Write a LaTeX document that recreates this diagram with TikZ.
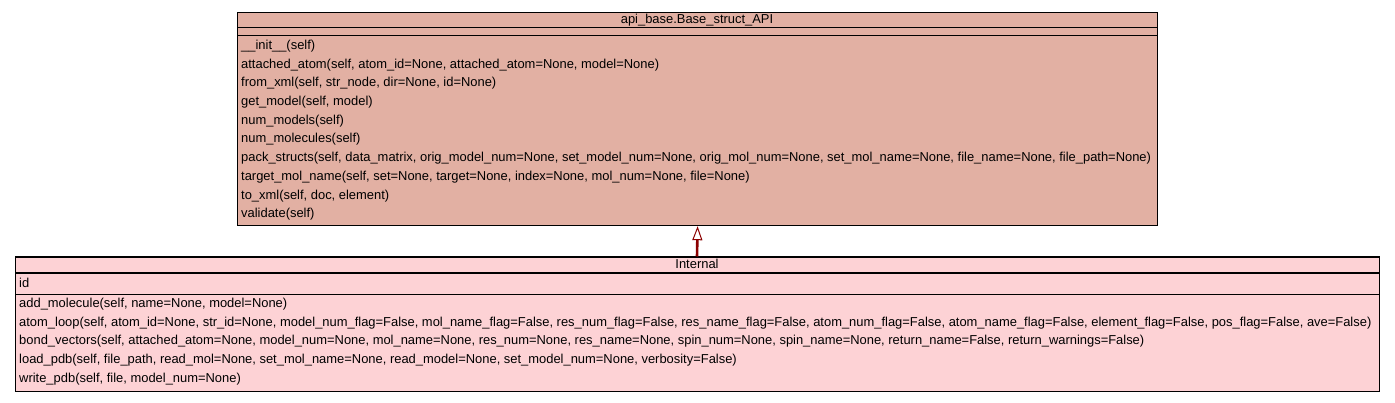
\documentclass[tikz,border=0pt]{standalone}
\usepackage{fontspec}
\setmainfont{Liberation Sans}
\usetikzlibrary{arrows.meta}

\definecolor{basefill}{RGB}{226,176,163}
\definecolor{subfill}{RGB}{253,210,213}
\definecolor{inhred}{RGB}{139,0,0}

\tikzset{
  classbox/.style={draw=black, line width=1.2pt, anchor=north west, inner sep=0pt},
  row/.style={anchor=base west, inner sep=0pt, font=\fontsize{12.93}{15}\selectfont},
  title/.style={anchor=base, inner sep=0pt, font=\fontsize{12.93}{15}\selectfont},
}

\begin{document}
\begin{tikzpicture}[x=1pt,y=-1pt]
                \useasboundingbox (0,0) rectangle (1395,403);

                % base class
                \node[classbox, fill=basefill, minimum width=920pt, minimum height=213pt] (base) at (237,12) {};
                \draw[line width=1.2pt] (237,27.5) -- (1157,27.5);
                \draw[line width=1.2pt] (237,35.3) -- (1157,35.3);

                \node[title] (basename) at (697,24) {api\_base.Base\_struct\_API};

                \node[row] (b1) at (241,49.5) {\_\_init\_\_(self)};
                \node[row] (b2) at (241,68.2) {attached\_atom(self, atom\_id=None, attached\_atom=None, model=None)};
                \node[row] (b3) at (241,86.9) {from\_xml(self, str\_node, dir=None, id=None)};
                \node[row] (b4) at (241,105.6) {get\_model(self, model)};
                \node[row] (b5) at (241,124.3) {num\_models(self)};
                \node[row] (b6) at (241,143) {num\_molecules(self)};
                \node[row] (b7) at (241,161.7) {pack\_structs(self, data\_matrix, orig\_model\_num=None, set\_model\_num=None, orig\_mol\_num=None, set\_mol\_name=None, file\_name=None, file\_path=None)};
                \node[row] (b8) at (241,180.4) {target\_mol\_name(self, set=None, target=None, index=None, mol\_num=None, file=None)};
                \node[row] (b9) at (241,199.1) {to\_xml(self, doc, element)};
                \node[row] (b10) at (241,217.8) {validate(self)};

                % sub class
                \node[classbox, fill=subfill, minimum width=1364pt, minimum height=134pt] (sub) at (15,256.5) {};
                \draw[line width=1.2pt] (15,273) -- (1379,273);
                \draw[line width=1.2pt] (15,294.3) -- (1379,294.3);

                \node[title] (subname) at (697,268.5) {Internal};

                \node[row] (s0) at (19,287.5) {id};

                \node[row] (s1) at (19,307.5) {add\_molecule(self, name=None, model=None)};
                \node[row] (s2) at (19,326.2) {atom\_loop(self, atom\_id=None, str\_id=None, model\_num\_flag=False, mol\_name\_flag=False, res\_num\_flag=False, res\_name\_flag=False, atom\_num\_flag=False, atom\_name\_flag=False, element\_flag=False, pos\_flag=False, ave=False)};
                \node[row] (s3) at (19,344.9) {bond\_vectors(self, attached\_atom=None, model\_num=None, mol\_name=None, res\_num=None, res\_name=None, spin\_num=None, spin\_name=None, return\_name=False, return\_warnings=False)};
                \node[row] (s4) at (19,363.6) {load\_pdb(self, file\_path, read\_mol=None, set\_mol\_name=None, read\_model=None, set\_model\_num=None, verbosity=False)};
                \node[row] (s5) at (19,382.3) {write\_pdb(self, file, model\_num=None)};

                % inheritance
                \draw[inhred, line width=2.6pt, -{Triangle[length=14pt, width=10pt, line width=1pt, fill=white]}] (sub.north -| subname) -- (base.south);
            \end{tikzpicture}
\end{document}
